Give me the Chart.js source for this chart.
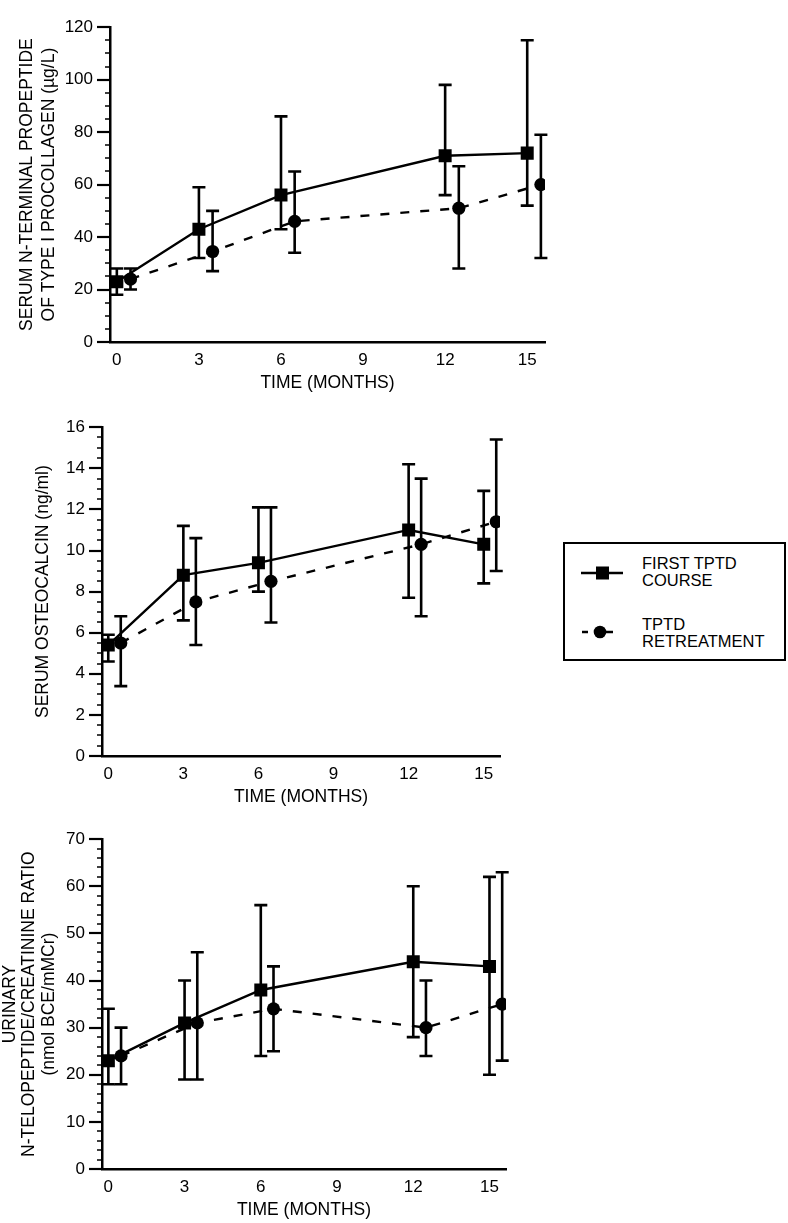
<!DOCTYPE html>
<html>
<head>
<meta charset="utf-8">
<script src="https://cdn.jsdelivr.net/npm/chart.js@4.4.1/dist/chart.umd.min.js"></script>
<style>
  html, body { margin: 0; padding: 0; background: #fff; }
  #page { position: relative; width: 788px; height: 1223px; overflow: hidden; background: #fff;
          font-family: "Liberation Sans", Arial, Helvetica, sans-serif; color: #000; }
  canvas { position: absolute; left: 0; }
  #legend { position: absolute; left: 563px; top: 542px; width: 223px; height: 119px;
            border: 2.5px solid #000; box-sizing: border-box; }
  .lt { position: absolute; font-size: 16.5px; line-height: 17px; white-space: nowrap; }
  .sym { position: absolute; }
</style>
</head>
<body>
<div id="page">
  <canvas id="c1" width="560" height="400" style="top:0px"></canvas>
  <canvas id="c2" width="560" height="412" style="top:400px"></canvas>
  <canvas id="c3" width="560" height="411" style="top:812px"></canvas>
  <div id="legend"></div>
  <svg class="sym" style="left:578px;top:563px" width="48" height="22">
    <line x1="3" y1="10" x2="45" y2="10" stroke="#000" stroke-width="2.5"/>
    <rect x="18" y="3.5" width="13" height="13" fill="#000"/>
  </svg>
  <div class="lt" style="left:642px;top:555px">FIRST TPTD</div>
  <div class="lt" style="left:642px;top:572px">COURSE</div>
  <svg class="sym" style="left:578px;top:622px" width="48" height="22">
    <line x1="4" y1="10" x2="10" y2="10" stroke="#000" stroke-width="2.5"/>
    <line x1="27" y1="10" x2="35" y2="10" stroke="#000" stroke-width="2.5"/>
    <circle cx="22" cy="10" r="6.3" fill="#000"/>
  </svg>
  <div class="lt" style="left:642px;top:616px">TPTD</div>
  <div class="lt" style="left:642px;top:633px">RETREATMENT</div>
</div>
<script>
// ---------- data ----------
const months = [0, 3, 6, 12, 15];
const xTickValues = [0, 3, 6, 9, 12, 15];
const retreatOffset = 0.5;

// Chart 1: serum PINP (µg/L)
const pinpFirst   = [23, 43, 56, 71, 72];
const pinpFirstLo = [18, 32, 43, 56, 52];
const pinpFirstHi = [28, 59, 86, 98, 115];
const pinpRe      = [24, 34.5, 46, 51, 60];
const pinpReLo    = [20, 27, 34, 28, 32];
const pinpReHi    = [28, 50, 65, 67, 79];

// Chart 2: serum osteocalcin (ng/ml)
const ocFirst   = [5.4, 8.8, 9.4, 11.0, 10.3];
const ocFirstLo = [4.6, 6.6, 8.0, 7.7, 8.4];
const ocFirstHi = [5.9, 11.2, 12.1, 14.2, 12.9];
const ocRe      = [5.5, 7.5, 8.5, 10.3, 11.4];
const ocReLo    = [3.4, 5.4, 6.5, 6.8, 9.0];
const ocReHi    = [6.8, 10.6, 12.1, 13.5, 15.4];

// Chart 3: urinary NTX/Cr ratio (nmol BCE/mMCr)
const ntxFirst   = [23, 31, 38, 44, 43];
const ntxFirstLo = [18, 19, 24, 28, 20];
const ntxFirstHi = [34, 40, 56, 60, 62];
const ntxRe      = [24, 31, 34, 30, 35];
const ntxReLo    = [18, 19, 25, 24, 23];
const ntxReHi    = [30, 46, 43, 40, 63];

const xTitle = 'TIME (MONTHS)';
const yTitle1 = ['SERUM N-TERMINAL PROPEPTIDE', 'OF TYPE \u2160 PROCOLLAGEN (\u00b5g/L)'];
const yTitle2 = 'SERUM OSTEOCALCIN (ng/ml)';
const yTitle3 = ['URINARY', 'N-TELOPEPTIDE/CREATININE RATIO', '(nmol BCE/mMCr)'];

// ---------- rendering ----------
const FONT = '"Liberation Sans", Arial, Helvetica, sans-serif';
Chart.defaults.font.family = FONT;
Chart.defaults.color = '#000';

const errorBars = {
  id: 'errorBars',
  beforeDatasetsDraw(chart) {
    const {ctx} = chart;
    const xs = chart.scales.x, ys = chart.scales.y;
    ctx.save();
    ctx.strokeStyle = '#000';
    ctx.lineWidth = 2.6;
    chart.data.datasets.forEach(ds => {
      if (!ds.errLo) return;
      ds.data.forEach((pt, j) => {
        const px = xs.getPixelForValue(pt.x);
        const lo = ys.getPixelForValue(ds.errLo[j]);
        const hi = ys.getPixelForValue(ds.errHi[j]);
        const cw = 6.5;
        ctx.beginPath();
        ctx.moveTo(px, lo); ctx.lineTo(px, hi);
        ctx.moveTo(px - cw, lo); ctx.lineTo(px + cw, lo);
        ctx.moveTo(px - cw, hi); ctx.lineTo(px + cw, hi);
        ctx.stroke();
      });
    });
    ctx.restore();
  }
};

const yTicksPlugin = {
  id: 'yTicksPlugin',
  afterDraw(chart, args, opts) {
    const {ctx} = chart;
    const ys = chart.scales.y;
    const left = chart.chartArea.left;
    ctx.save();
    ctx.strokeStyle = '#000';
    const n = Math.round((ys.max - ys.min) / opts.minor);
    for (let i = 0; i <= n; i++) {
      const v = ys.min + i * opts.minor;
      const isMajor = Math.abs(v / opts.major - Math.round(v / opts.major)) < 1e-6;
      const py = Math.round(ys.getPixelForValue(v));
      ctx.lineWidth = isMajor ? 2.2 : 1.5;
      ctx.beginPath();
      ctx.moveTo(left - (isMajor ? 13 : 5), py);
      ctx.lineTo(left, py);
      ctx.stroke();
    }
    ctx.restore();
  }
};

function makeChart(id, p) {
  const first = months.map((m, i) => ({x: m, y: p.first[i]}));
  const re = months.map((m, i) => ({x: m + retreatOffset, y: p.re[i]}));
  return new Chart(document.getElementById(id), {
    type: 'scatter',
    data: {
      datasets: [
        {
          label: 'FIRST TPTD COURSE', data: first, errLo: p.firstLo, errHi: p.firstHi,
          showLine: true, borderColor: '#000', backgroundColor: '#000', borderWidth: 2.4,
          pointStyle: 'rect', pointRadius: 9.2, pointBorderWidth: 0, pointBackgroundColor: '#000'
        },
        {
          label: 'TPTD RETREATMENT', data: re, errLo: p.reLo, errHi: p.reHi,
          showLine: true, borderColor: '#000', backgroundColor: '#000', borderWidth: 2.4,
          borderDash: [9, 11],
          pointStyle: 'circle', pointRadius: 6.6, pointBorderWidth: 0, pointBackgroundColor: '#000'
        }
      ]
    },
    options: {
      responsive: false, animation: false, devicePixelRatio: 1,
      layout: {padding: p.padding},
      plugins: {legend: {display: false}, tooltip: {enabled: false},
                yTicksPlugin: {major: p.major, minor: p.minor}},
      elements: {line: {tension: 0}},
      scales: {
        x: {
          type: 'linear', min: -0.25, max: 15.65,
          afterBuildTicks: s => { s.ticks = xTickValues.map(v => ({value: v})); },
          afterFit: s => { s.height = p.xHeight; },
          ticks: {font: {size: 17}, padding: 8, maxRotation: 0, autoSkip: false, color: '#000'},
          grid: {display: true, drawOnChartArea: false, drawTicks: false},
          border: {display: true, color: '#000', width: 2.5},
          title: {display: true, text: xTitle, color: '#000',
                  font: {size: 17.5, lineHeight: 1.3}, padding: {top: 0, bottom: p.xTitlePad}}
        },
        y: {
          type: 'linear', min: p.yMin, max: p.yMax,
          afterFit: s => { s.width = p.yWidth; },
          ticks: {stepSize: p.major, font: {size: 17}, padding: 17, color: '#000'},
          grid: {display: true, drawOnChartArea: false, drawTicks: false},
          border: {display: true, color: '#000', width: 2.5},
          title: {display: true, text: p.yTitle, color: '#000',
                  font: {size: 17.5, lineHeight: p.yTitleLH}, padding: {top: p.yTitlePad, bottom: 0}}
        }
      }
    },
    plugins: [errorBars, yTicksPlugin]
  });
}

makeChart('c1', {
  first: pinpFirst, firstLo: pinpFirstLo, firstHi: pinpFirstHi,
  re: pinpRe, reLo: pinpReLo, reHi: pinpReHi,
  yMin: 0, yMax: 120, major: 20, minor: 5,
  yWidth: 110, xHeight: 58, padding: {top: 8, right: 15, bottom: 0, left: 0},
  yTitle: yTitle1, yTitleLH: 1.26, yTitlePad: 16, xTitlePad: 5
});
makeChart('c2', {
  first: ocFirst, firstLo: ocFirstLo, firstHi: ocFirstHi,
  re: ocRe, reLo: ocReLo, reHi: ocReHi,
  yMin: 0, yMax: 16, major: 2, minor: 0.5,
  yWidth: 102, xHeight: 56, padding: {top: 24, right: 60, bottom: 0, left: 0},
  yTitle: yTitle2, yTitleLH: 1.26, yTitlePad: 32, xTitlePad: 3
});
makeChart('c3', {
  first: ntxFirst, firstLo: ntxFirstLo, firstHi: ntxFirstHi,
  re: ntxRe, reLo: ntxReLo, reHi: ntxReHi,
  yMin: 0, yMax: 70, major: 10, minor: 2,
  yWidth: 102, xHeight: 54, padding: {top: 24, right: 54, bottom: 0, left: 0},
  yTitle: yTitle3, yTitleLH: 1.12, yTitlePad: 0, xTitlePad: 1
});
</script>
</body>
</html>
